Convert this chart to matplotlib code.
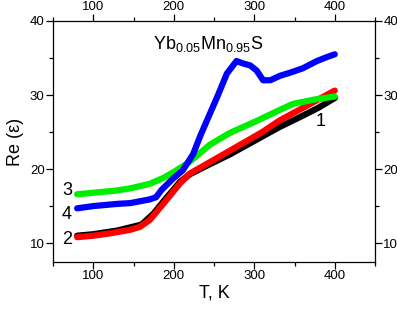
import matplotlib
matplotlib.use("Agg")
import matplotlib.pyplot as plt
from matplotlib.ticker import MultipleLocator

plt.rcParams['font.family'] = ['Liberation Sans', 'DejaVu Sans']
plt.rcParams['mathtext.fontset'] = 'custom'
plt.rcParams['mathtext.rm'] = 'Liberation Sans'
plt.rcParams['mathtext.it'] = 'Liberation Sans'

# Curve 1 (black)
t1 = [80, 100, 130, 160, 175, 190, 208, 220, 240, 270, 300, 330, 360, 380, 400]
e1 = [11.0, 11.2, 11.7, 12.5, 14.0, 16.0, 18.3, 19.3, 20.4, 22.0, 23.8, 25.6, 27.2, 28.3, 29.6]

# Curve 2 (red)
t2 = [80, 100, 120, 146, 158, 170, 187, 208, 220, 233, 270, 310, 332, 361, 400]
e2 = [10.8, 11.0, 11.3, 11.8, 12.2, 13.1, 15.3, 18.1, 19.4, 20.2, 22.5, 25.0, 26.6, 28.3, 30.6]

# Curve 3 (green)
t3 = [80, 100, 129, 146, 170, 187, 200, 220, 245, 270, 303, 328, 348, 375, 400]
e3 = [16.6, 16.8, 17.1, 17.4, 18.0, 18.8, 19.6, 21.0, 23.3, 24.9, 26.5, 27.8, 28.8, 29.4, 29.8]

# Curve 4 (blue)
t4 = [80, 100, 130, 146, 170, 178, 185, 199, 211, 224, 233, 245, 255, 266, 278,
      285, 295, 303, 311, 320, 332, 344, 360, 378, 392, 400]
e4 = [14.7, 15.0, 15.3, 15.4, 15.9, 16.2, 17.2, 18.7, 19.8, 22.0, 24.5, 27.5, 30.0, 32.9, 34.6,
      34.3, 34.0, 33.3, 32.0, 32.0, 32.6, 33.0, 33.6, 34.6, 35.2, 35.5]

fig = plt.figure(figsize=(3.97, 3.12), dpi=100)
ax = fig.add_axes([0.1335, 0.1603, 0.8111, 0.7724])

ax.plot(t1, e1, color='black', lw=4.5, solid_capstyle='round')
ax.plot(t2, e2, color='#ff0000', lw=4.5, solid_capstyle='round')
ax.plot(t3, e3, color='#00ee00', lw=4.5, solid_capstyle='round')
ax.plot(t4, e4, color='#0000ff', lw=4.5, solid_capstyle='round')

ax.set_xlim(50, 450)
ax.set_ylim(7.45, 40)

ax.xaxis.set_major_locator(MultipleLocator(100))
ax.xaxis.set_minor_locator(MultipleLocator(50))
ax.yaxis.set_major_locator(MultipleLocator(10))
ax.yaxis.set_minor_locator(MultipleLocator(5))

# ticks on all four sides, pointing out, labels on all four sides
ax.tick_params(which='both', direction='out', top=True, right=True,
               labeltop=True, labelright=True, labelsize=9.5, width=0.9)
ax.tick_params(which='major', length=5)
ax.tick_params(which='minor', length=3)
ax.tick_params(axis='x', which='major', pad=0.5)
ax.tick_params(axis='y', which='major', pad=1.0)
for s in ax.spines.values():
    s.set_linewidth(0.9)

ax.set_xlabel('T, K', fontsize=13, labelpad=2)
ax.set_ylabel('Re (ε)', fontsize=13, labelpad=4)

ax.text(243, 36.9, r'Yb$_{0.05}$Mn$_{0.95}$S', fontsize=13, ha='center', va='center')
ax.text(382, 26.4, '1', fontsize=13, ha='center', va='center')
ax.text(68, 10.5, '2', fontsize=13, ha='center', va='center')
ax.text(68, 17.1, '3', fontsize=13, ha='center', va='center')
ax.text(67, 13.8, '4', fontsize=13, ha='center', va='center')

fig.savefig('out.png', dpi=100)
